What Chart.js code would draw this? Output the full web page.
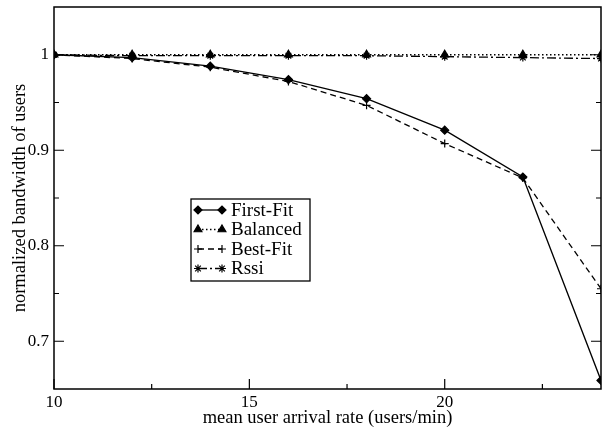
<!DOCTYPE html>
<html>
<head>
<meta charset="utf-8">
<script src="https://cdn.jsdelivr.net/npm/chart.js@4"></script>
<style>
  html, body { margin: 0; padding: 0; background: #fff; }
  #wrap { width: 613px; height: 427px; }
</style>
</head>
<body>
<div id="wrap"><canvas id="chart" width="613" height="427"></canvas></div>
<script>
// data
const arrivalRates = [10, 12, 14, 16, 18, 20, 22, 24];
const firstFit = [1.0, 0.997, 0.988, 0.974, 0.954, 0.921, 0.872, 0.659];
const balanced = [1.0, 1.0, 1.0, 1.0, 1.0, 1.0, 1.0, 1.0];
const bestFit = [1.0, 0.996, 0.987, 0.972, 0.947, 0.907, 0.871, 0.755];
const rssi = [1.0, 0.999, 0.999, 0.999, 0.999, 0.998, 0.997, 0.996];
const yLabels = [0.7, 0.8, 0.9, 1];
const xLabels = [10, 15, 20];

const FONT = '"Liberation Serif", "DejaVu Serif", serif';

function pts(ys) {
  return arrivalRates.map((x, i) => ({ x: x, y: ys[i] }));
}

function series(label, ys, style, dash, radius) {
  return {
    label: label,
    data: pts(ys),
    borderColor: '#000',
    backgroundColor: '#000',
    borderWidth: 1.3,
    borderDash: dash,
    pointStyle: style,
    pointRadius: radius,
    pointBorderWidth: 1.2,
    pointBorderColor: '#000',
    pointBackgroundColor: '#000',
    tension: 0
  };
}

// frame + inward ticks
const framePlugin = {
  id: 'frame',
  afterDraw(chart) {
    const ctx = chart.ctx;
    const a = chart.chartArea;
    const xs = chart.scales.x, ys = chart.scales.y;
    ctx.save();
    ctx.strokeStyle = '#000';
    ctx.lineWidth = 1.5;
    ctx.strokeRect(a.left, a.top, a.right - a.left, a.bottom - a.top);
    ctx.lineWidth = 1.2;
    ctx.beginPath();
    ys.ticks.forEach(t => {
      const y = ys.getPixelForValue(t.value);
      const len = t.label !== '' ? 10 : 5;
      ctx.moveTo(a.left, y); ctx.lineTo(a.left + len, y);
      ctx.moveTo(a.right, y); ctx.lineTo(a.right - len, y);
    });
    xs.ticks.forEach(t => {
      const x = xs.getPixelForValue(t.value);
      if (t.value >= xs.max) return;
      const len = t.label !== '' ? 10 : 5;
      ctx.moveTo(x, a.bottom); ctx.lineTo(x, a.bottom - len);
    });
    ctx.stroke();
    ctx.restore();
  }
};

// legend with marker-line-marker samples
const legendPlugin = {
  id: 'boxLegend',
  afterDraw(chart) {
    const ctx = chart.ctx;
    const bx = 191, by = 199, bw = 119, bh = 82;
    ctx.save();
    ctx.fillStyle = '#fff';
    ctx.fillRect(bx, by, bw, bh);
    ctx.strokeStyle = '#000';
    ctx.lineWidth = 1.3;
    ctx.strokeRect(bx, by, bw, bh);
    ctx.font = '19px ' + FONT;
    ctx.textBaseline = 'middle';
    chart.data.datasets.forEach((ds, i) => {
      const y = 210 + i * 19.5;
      const x0 = 198, x1 = 222;
      ctx.strokeStyle = '#000';
      ctx.lineWidth = 1.3;
      ctx.setLineDash(ds.borderDash || []);
      ctx.beginPath();
      ctx.moveTo(x0, y); ctx.lineTo(x1, y);
      ctx.stroke();
      ctx.setLineDash([]);
      ctx.fillStyle = '#000';
      ctx.lineWidth = 1.2;
      const opts = { pointStyle: ds.pointStyle, radius: ds.pointRadius, rotation: 0, borderWidth: 1.2 };
      Chart.helpers.drawPoint(ctx, opts, x0, y);
      Chart.helpers.drawPoint(ctx, opts, x1, y);
      ctx.fillText(ds.label, 231, y + 1);
    });
    ctx.restore();
  }
};

new Chart(document.getElementById('chart'), {
  type: 'line',
  data: {
    datasets: [
      series('First-Fit', firstFit, 'rectRot', [], 4),
      series('Balanced', balanced, 'triangle', [1.5, 2.5], 4.5),
      series('Best-Fit', bestFit, 'cross', [6, 4], 4),
      series('Rssi', rssi, 'star', [9, 3, 2, 3], 4)
    ]
  },
  options: {
    responsive: false,
    animation: false,
    layout: { padding: { top: 7, right: 12, left: 0, bottom: 0 } },
    plugins: {
      legend: { display: false },
      tooltip: { enabled: false }
    },
    scales: {
      x: {
        type: 'linear',
        min: 10,
        max: 24,
        grid: { display: false, drawTicks: false },
        border: { display: false },
        afterBuildTicks(scale) {
          const t = [];
          for (let v = 10; v < 24; v += 2.5) t.push({ value: v });
          scale.ticks = t;
        },
        afterFit(scale) {
          scale.height = 38;
          scale.paddingLeft = 0;
          scale.paddingRight = 0;
        },
        ticks: {
          color: '#000',
          font: { family: FONT, size: 17 },
          padding: 3,
          maxRotation: 0,
          autoSkip: false,
          callback: v => xLabels.includes(v) ? String(v) : ''
        },
        title: {
          display: true,
          text: 'mean user arrival rate (users/min)',
          color: '#000',
          font: { family: FONT, size: 18.5, lineHeight: 1 },
          padding: { top: 0, bottom: 0 }
        }
      },
      y: {
        min: 0.65,
        max: 1.05,
        grid: { display: false, drawTicks: false },
        border: { display: false },
        afterBuildTicks(scale) {
          const t = [];
          for (let k = 14; k <= 20; k++) t.push({ value: k * 0.05 });
          scale.ticks = t;
        },
        afterFit(scale) {
          scale.width = 54;
          scale.paddingTop = 0;
          scale.paddingBottom = 0;
        },
        ticks: {
          color: '#000',
          font: { family: FONT, size: 17 },
          padding: 5,
          autoSkip: false,
          callback: v => {
            const m = yLabels.find(l => Math.abs(l - v) < 1e-6);
            return m !== undefined ? String(m) : '';
          }
        },
        title: {
          display: true,
          text: 'normalized bandwidth of users',
          color: '#000',
          font: { family: FONT, size: 18.5 },
          padding: { top: 9, bottom: 0 }
        }
      }
    }
  },
  plugins: [framePlugin, legendPlugin]
});
</script>
</body>
</html>
